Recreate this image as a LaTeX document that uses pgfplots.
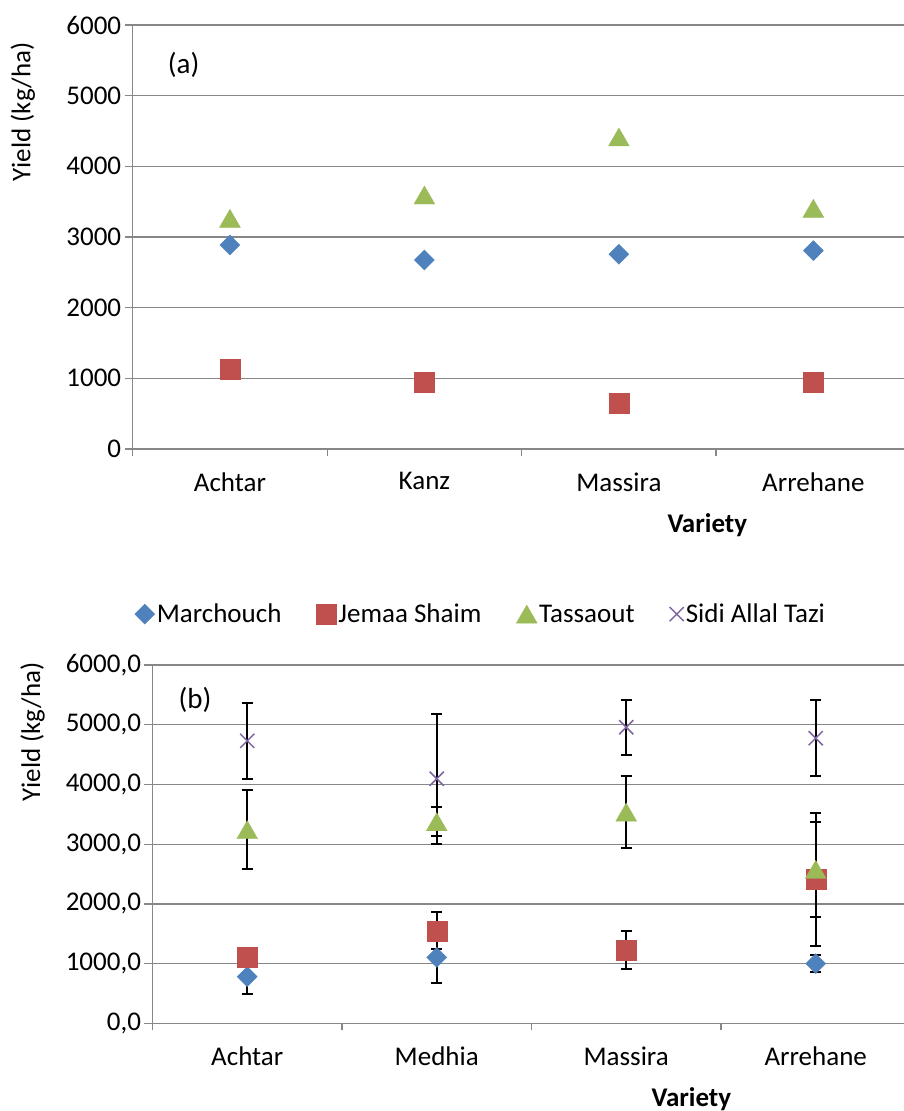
\documentclass[border=0pt]{standalone}
\usepackage{pgfplots}
\pgfplotsset{compat=1.18}
\usepackage{pgfplotstable}
\usepackage{fontspec}
\setmainfont{Carlito}
\newcommand\fs{\fontsize{27}{32}\selectfont}
\definecolor{mblue}{HTML}{4F81BD}
\definecolor{mred}{HTML}{C0504D}
\definecolor{mgreen}{HTML}{9BBB59}
\definecolor{mpurple}{HTML}{8064A2}
\definecolor{gridgray}{HTML}{878787}

\pgfplotstableread{
x y e
0 780 290
1 1105 435
2 1230 100
3 1000 140
}\marchb
\pgfplotstableread{
x y e
0 1108 40
1 1550 307
2 1228 315
3 2412 1115
}\jemaab
\pgfplotstableread{
x y e
0 3242 658
1 3375 240
2 3536 600
3 2576 794
}\tassb
\pgfplotstableread{
x y e
0 4730 632
1 4095 1090
2 4958 457
3 4774 641
}\sidib

\pgfplotsset{
  excel/.style={
    scale only axis,
    axis x line*=bottom, axis y line*=left,
    axis line style={draw=gridgray, line width=1.3pt},
    ymajorgrids, grid style={draw=gridgray, line width=1.3pt},
    tick align=outside,
    major tick length=8pt, minor tick length=7pt,
    tick style={draw=gridgray, line width=1.3pt},
    major x tick style={draw=none},
    xtick={0,1,2,3}, minor xtick={-0.5,0.5,1.5,2.5},
    xmin=-0.5, xmax=3.466,
    ymin=0, ymax=6000, ytick={0,1000,2000,3000,4000,5000,6000},
    xticklabel style={font=\fs, text=black, yshift=-12pt},
    yticklabel style={font=\fs, text=black, anchor=east},
    xlabel style={font=\fs},
    ylabel style={font=\fs},
    clip=false,
  },
  sMarch/.style={only marks, mark=square*, mark size=7.07pt, mark options={rotate=45, draw=mblue, fill=mblue}},
  sJem/.style={only marks, mark=square*, mark size=10pt, mark options={draw=mred, fill=mred}},
  sTas/.style={only marks, mark=triangle*, mark size=12pt, mark options={draw=mgreen, fill=mgreen, yshift=-3pt}},
  sSidi/.style={only marks, mark=x, mark size=10pt, mark options={draw=mpurple, line width=1.5pt}},
  errs/.style={error bars/.cd, y dir=both, y explicit,
    error bar style={black, line width=2pt},
    error mark options={rotate=90, black, line width=2pt, mark size=5.5pt}},
}

\begin{document}
\begin{tikzpicture}
\useasboundingbox (0,0) rectangle (904pt,1111pt);

% ---------- panel (a)
\begin{axis}[excel,
  at={(132.7pt,662pt)}, anchor=south west,
  width=771.3pt, height=424pt,
  yticklabels={0,1000,2000,3000,4000,5000,6000},
  xticklabels={Achtar,Kanz,Massira,Arrehane},
  ylabel={\fs Yield (kg/ha)},
  ylabel style={at={(axis description cs:-0.1426,0.795)}, anchor=center},
  xlabel={\fs\textbf{Variety}},
  xlabel style={at={(axis description cs:0.745,-0.179)}, anchor=center},
]
\addplot[sMarch] coordinates {(0,2887) (1,2674) (2,2755) (3,2807)};
\addplot[sJem] coordinates {(0,1123) (1,948) (2,651) (3,948)};
\addplot[sTas] coordinates {(0,3264) (1,3594) (2,4415) (3,3406)};
\node[font=\fontsize{29}{34}\selectfont, anchor=center] at (axis description cs:0.066,0.906) {(a)};
\end{axis}

% ---------- panel (b)
\begin{axis}[excel,
  at={(152.5pt,87.7pt)}, anchor=south west,
  width=751.5pt, height=358.3pt,
  yticklabels={{0,0},{1000,0},{2000,0},{3000,0},{4000,0},{5000,0},{6000,0}},
  xticklabels={Achtar,Medhia,Massira,Arrehane},
  ylabel={\fs Yield (kg/ha)},
  ylabel style={at={(axis description cs:-0.1597,0.813)}, anchor=center},
  xlabel={\fs\textbf{Variety}},
  xlabel style={at={(axis description cs:0.717,-0.211)}, anchor=center},
  legend style={at={(axis description cs:0.437,1.142)}, anchor=center, draw=none,
    fill=none, font=\fs, legend columns=4,
    /tikz/every even column/.append style={column sep=33pt}},
]
\addplot[sMarch, errs] table[x=x, y=y, y error=e] {\marchb};
\addlegendentry{Marchouch}
\addplot[sJem, errs] table[x=x, y=y, y error=e] {\jemaab};
\addlegendentry{Jemaa Shaim}
\addplot[sTas, errs] table[x=x, y=y, y error=e] {\tassb};
\addlegendentry{Tassaout}
\addplot[sSidi, errs] table[x=x, y=y, y error=e] {\sidib};
\addlegendentry{Sidi Allal Tazi}
\node[font=\fontsize{29}{34}\selectfont, anchor=center] at (axis description cs:0.0566,0.902) {(b)};
\end{axis}
\end{tikzpicture}
\end{document}
